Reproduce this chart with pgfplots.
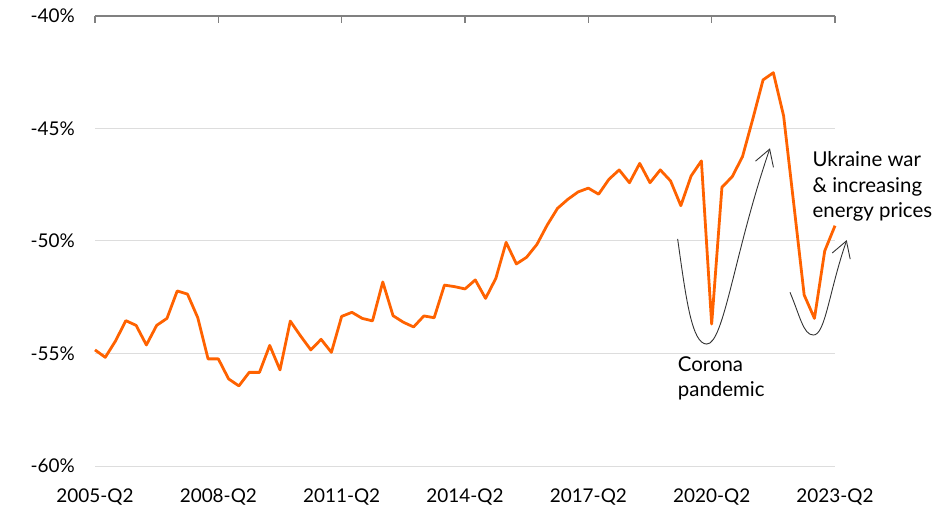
\documentclass[border=0pt]{standalone}
\usepackage{pgfplots}
\pgfplotsset{compat=1.18}
\usepackage{fontspec}
\setmainfont{Lato}
\usetikzlibrary{arrows.meta}
\definecolor{ingorange}{HTML}{FF6200}
\definecolor{gridgray}{HTML}{DDDDDD}
\definecolor{axisgray}{HTML}{808080}
\definecolor{annot}{HTML}{333333}
\pgfplotstableread{
x y
0 -54.84
1 -55.17
2 -54.44
3 -53.54
4 -53.75
5 -54.62
6 -53.75
7 -53.44
8 -52.22
9 -52.36
10 -53.41
11 -55.24
12 -55.24
13 -56.13
14 -56.44
15 -55.84
16 -55.84
17 -54.64
18 -55.73
19 -53.56
20 -54.22
21 -54.84
22 -54.37
23 -54.95
24 -53.35
25 -53.17
26 -53.44
27 -53.55
28 -51.82
29 -53.32
30 -53.61
31 -53.82
32 -53.33
33 -53.41
34 -51.96
35 -52.03
36 -52.13
37 -51.73
38 -52.55
39 -51.66
40 -50.06
41 -51.02
42 -50.72
43 -50.15
44 -49.29
45 -48.55
46 -48.15
47 -47.82
48 -47.65
49 -47.92
50 -47.26
51 -46.84
52 -47.41
53 -46.55
54 -47.41
55 -46.84
56 -47.33
57 -48.43
58 -47.11
59 -46.44
60 -53.69
61 -47.61
62 -47.14
63 -46.25
64 -44.58
65 -42.84
66 -42.52
67 -44.44
68 -48.40
69 -52.40
70 -53.44
71 -50.44
72 -49.32
}\datatable
\begin{document}
\begin{tikzpicture}
\useasboundingbox (-95bp,-44bp) rectangle (857bp,466bp);
\begin{axis}[
 at={(0,0)}, anchor=south west,
 scale only axis, width=740bp, height=450bp,
 xmin=0, xmax=72, ymin=-60, ymax=-40,
 xtick={0,12,24,36,48,60,72},
 xticklabels={2005-Q2,2008-Q2,2011-Q2,2014-Q2,2017-Q2,2020-Q2,2023-Q2},
 ytick={-60,-55,-50,-45,-40},
 yticklabels={-60\%,-55\%,-50\%,-45\%,-40\%},
 major tick length=0pt,
 tick style={draw=none},
 axis line style={draw=none},
 ymajorgrids, grid style={gridgray, line width=1bp},
 tick label style={font=\fontsize{19}{23}\selectfont, text=black},
 xticklabel style={inner sep=0pt, anchor=north, yshift=-23bp},
 yticklabel style={inner sep=0pt, anchor=east, xshift=-20bp},
 clip=false,
]
\addplot[ingorange, line width=2.8bp, line join=round, mark=none] table[x=x,y=y] {\datatable};
\draw[axisgray, line width=1.2bp] (axis cs:0,-40) -- (axis cs:72,-40);
\pgfplotsinvokeforeach{0,12,24,36,48,60,72}{
  \draw[axisgray, line width=1.2bp] (axis cs:#1,-40) -- (axis cs:#1,-40.31);
}
\draw[annot, line width=0.9bp, -{Straight Barb[length=16bp,width=19bp]}]
  (axis cs:56.69,-49.91) .. controls (axis cs:57.50,-52.55) and (axis cs:58.07,-54.58) ..
  (axis cs:59.52,-54.58) .. controls (axis cs:61.20,-54.58) and (axis cs:62.19,-50.51) ..
  (axis cs:65.67,-45.88);
\draw[annot, line width=0.9bp, -{Straight Barb[length=16bp,width=19bp]}]
  (axis cs:67.62,-52.28) .. controls (axis cs:68.57,-53.30) and (axis cs:68.92,-54.18) ..
  (axis cs:69.89,-54.18) .. controls (axis cs:71.06,-54.18) and (axis cs:71.40,-52.27) ..
  (axis cs:73.14,-49.96);
\begin{scope}[every node/.style={anchor=base west, inner sep=0pt, font=\fontsize{20.5}{24}\selectfont, text=black}]
\node at (axis cs:56.7,-55.82) {Corona};
\node at (axis cs:56.7,-56.93) {pandemic};
\node at (axis cs:69.8,-46.70) {Ukraine war};
\node at (axis cs:69.8,-47.85) {\& increasing};
\node at (axis cs:69.8,-48.95) {energy prices};
\end{scope}
\end{axis}
\end{tikzpicture}
\end{document}
